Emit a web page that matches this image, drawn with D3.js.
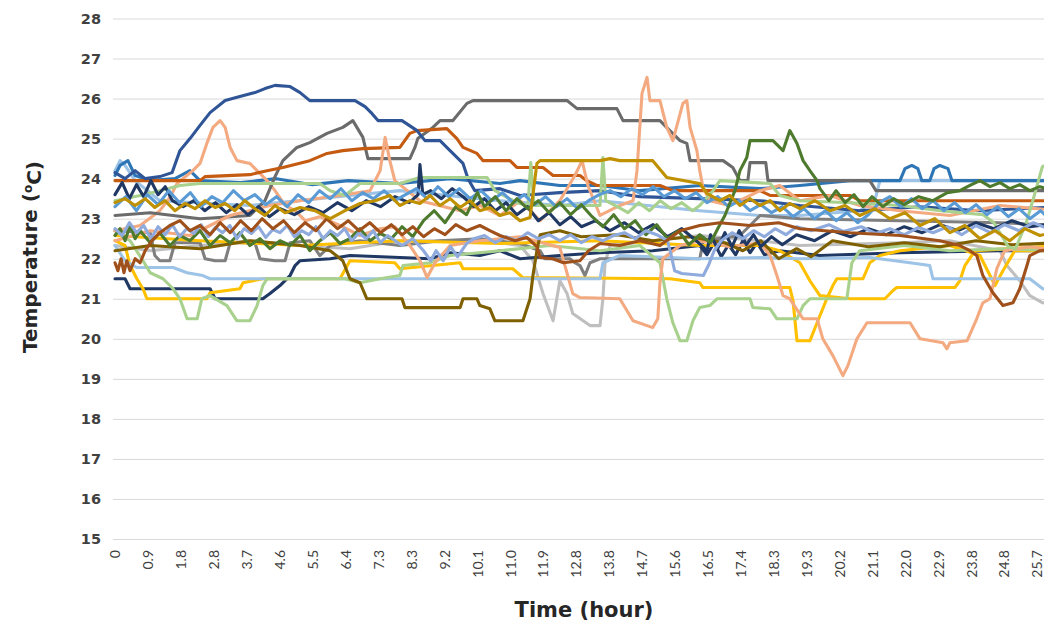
<!DOCTYPE html>
<html><head><meta charset="utf-8">
<script src="https://cdn.jsdelivr.net/npm/d3@7"></script>
<style>body{margin:0;background:#fff;overflow:hidden}svg{display:block}</style>
</head><body>
<svg id="chart" width="1044" height="623"></svg>
<script>
// ---------- data ----------
const tickLabels = ["0","0.9","1.8","2.8","3.7","4.6","5.5","6.4","7.3","8.3","9.2","10.1","11.0","11.9","12.8","13.8","14.7","15.6","16.5","17.4","18.3","19.3","20.2","21.1","22.0","22.9","23.8","24.8","25.7"];
const yTicks = [15,16,17,18,19,20,21,22,23,24,25,26,27,28];
const lastTickHour = 25.7;

const navyHump = [[0,24.15],[0.28,24.0],[0.56,24.2],[0.84,24.0],[1.25,24.05],[1.59,24.15],[1.81,24.7],[2.09,25.0],[2.37,25.33],[2.65,25.65],[3.07,25.95],[3.48,26.05],[3.9,26.15],[4.18,26.25],[4.46,26.33],[4.88,26.3],[5.16,26.15],[5.43,25.95],[6.69,25.95],[6.97,25.8],[7.16,25.63],[7.33,25.45],[8.0,25.45],[8.42,25.2],[8.64,24.95],[9.06,24.95],[9.34,24.7],[9.7,24.38],[9.84,24.0],[10.03,23.7],[10.73,23.75],[11.29,23.58],[12.4,23.65],[13.52,23.7],[14.63,23.55],[16.3,23.5],[17.98,23.45],[19.09,23.33],[20.76,23.2],[22.44,23.3],[24.1,23.2],[26.34,23.3]];
const grayHump = [[0,23.08],[0.98,23.15],[2.37,23.0],[3.76,23.08],[4.18,23.45],[4.46,24.05],[4.68,24.45],[5.07,24.78],[5.43,24.9],[5.91,25.13],[6.35,25.28],[6.63,25.45],[6.91,25.03],[7.05,24.5],[8.22,24.5],[8.36,24.78],[8.44,25.0],[8.86,25.28],[9.06,25.45],[9.42,25.45],[9.81,25.88],[9.98,25.95],[12.6,25.95],[12.88,25.75],[13.99,25.75],[14.16,25.45],[15.19,25.45],[15.41,25.25],[15.75,24.95],[15.94,24.88],[16.03,24.45],[16.95,24.45],[17.22,24.28],[17.42,23.95],[17.64,23.95],[17.7,24.4],[18.14,24.4],[18.2,23.95],[21.04,23.95],[21.21,23.7],[22.99,23.7],[26.34,23.7]];
const rustStep = [[0,23.95],[2.37,23.95],[2.51,24.05],[3.76,24.1],[4.24,24.2],[4.68,24.28],[5.43,24.45],[5.91,24.63],[6.35,24.7],[6.91,24.75],[7.94,24.78],[8.22,25.13],[8.42,25.2],[9.25,25.25],[9.53,25.0],[9.7,24.78],[10.09,24.63],[10.26,24.45],[11.01,24.45],[11.2,24.28],[11.93,24.28],[12.21,24.08],[12.96,24.08],[13.15,23.95],[13.43,23.83],[15.19,23.83],[15.55,23.7],[17.98,23.7],[18.26,23.58],[20.49,23.58],[20.76,23.45],[26.34,23.45]];
const salmonPeak = [[0,22.7],[0.7,22.83],[1.25,23.2],[1.53,23.53],[1.73,23.88],[2.17,24.2],[2.37,24.38],[2.56,24.88],[2.73,25.28],[2.93,25.45],[3.07,25.28],[3.21,24.78],[3.4,24.45],[3.76,24.38],[3.96,24.2],[4.24,23.95],[4.46,23.7],[4.74,23.33],[5.02,23.2],[5.3,22.95],[5.71,23.05],[6.27,22.83],[6.83,22.58],[7.39,22.75],[7.8,22.8],[8.22,22.33],[8.5,21.95],[8.7,21.53],[8.92,21.9],[9.34,22.33],[10.17,22.45],[11.29,22.55],[12.4,22.28],[12.76,21.13],[12.96,21.03],[14.07,21.0],[14.44,20.45],[14.99,20.28],[15.13,20.5],[15.19,21.4],[15.27,22.0],[15.75,22.33],[16.3,22.45],[17.14,22.3],[17.98,22.4],[18.26,22.08],[18.45,21.58],[18.62,21.08],[18.81,21.0],[19.18,20.5],[19.57,20.5],[19.73,20.0],[20.01,19.58],[20.29,19.08],[20.43,19.33],[20.68,20.0],[20.96,20.4],[22.16,20.4],[22.44,20.0],[23.08,19.9],[23.19,19.75],[23.27,19.9],[23.75,19.95],[24.02,20.5],[24.19,20.9],[24.39,21.0],[24.58,21.75],[24.8,22.2],[25.5,22.3],[26.34,22.2]];
const salmonSpike = [[0,22.45],[0.98,22.7],[2.09,22.58],[3.21,23.08],[4.32,23.33],[5.16,23.45],[6.27,23.58],[7.11,23.7],[7.39,24.2],[7.53,25.03],[7.66,24.45],[7.8,23.95],[8.5,23.45],[9.62,23.2],[10.17,23.33],[10.73,23.08],[11.29,23.45],[11.85,22.95],[12.4,23.45],[12.82,24.08],[13.02,24.45],[13.18,23.83],[13.52,23.08],[14.07,23.33],[14.44,23.45],[14.55,24.2],[14.69,26.13],[14.83,26.53],[14.91,25.95],[15.19,25.95],[15.38,25.28],[15.55,24.95],[15.83,25.88],[15.94,25.95],[16.03,25.28],[16.22,24.7],[16.3,24.2],[16.39,23.78],[16.58,23.45],[17.14,23.33],[17.98,23.7],[18.53,23.83],[19.09,23.45],[19.93,23.58],[20.76,23.33],[21.88,23.2],[23.27,23.08],[24.67,23.33],[26.34,23.2]];
const oliveLow = [[0,22.2],[0.98,22.33],[2.37,22.25],[3.76,22.45],[5.16,22.33],[6.0,22.2],[6.35,21.95],[6.55,21.5],[6.83,21.4],[7.02,21.0],[8.0,21.0],[8.08,20.78],[9.62,20.78],[9.7,21.0],[10.09,21.0],[10.17,20.83],[10.45,20.75],[10.59,20.45],[11.37,20.45],[11.57,21.0],[11.65,21.58],[11.76,22.2],[11.85,22.6],[12.4,22.7],[13.0,22.55],[14.0,22.6],[15.0,22.45],[16.0,22.55],[17.0,22.4],[17.5,22.2],[18.0,22.45],[18.5,22.0],[19.0,22.25],[19.4,22.05],[20.0,22.45],[21.0,22.3],[22.0,22.4],[23.0,22.3],[24.0,22.45],[25.0,22.35],[26.34,22.4]];
const goldMain = [[0,23.4],[0.28,23.5],[0.56,23.33],[0.84,23.5],[1.11,23.28],[1.39,23.45],[1.67,23.2],[1.95,23.38],[2.23,23.25],[2.51,23.45],[2.79,23.28],[3.07,23.38],[3.34,23.2],[3.62,23.45],[3.9,23.25],[4.18,23.08],[4.46,23.33],[4.74,23.15],[5.16,23.28],[5.57,23.2],[6.0,23.0],[6.41,23.2],[6.83,23.38],[7.25,23.45],[7.66,23.58],[7.94,23.33],[8.22,23.45],[8.5,23.38],[8.78,23.58],[9.06,23.33],[9.34,23.5],[9.62,23.28],[9.89,23.45],[10.17,23.2],[10.45,23.28],[10.73,23.08],[11.01,23.15],[11.29,22.95],[11.57,23.03],[11.76,24.38],[11.85,24.45],[13.52,24.45],[13.8,24.5],[14.07,24.45],[14.99,24.45],[15.38,24.03],[16.3,23.88],[16.5,23.63],[16.86,23.45],[17.14,23.58],[17.42,23.33],[17.7,23.5],[17.98,23.33],[18.26,23.45],[18.53,23.2],[18.81,23.38],[19.09,23.25],[19.51,23.45],[19.93,23.2],[20.35,23.33],[20.76,23.08],[21.18,23.25],[21.6,23.0],[22.02,23.15],[22.44,22.83],[22.85,23.0],[23.27,22.65],[23.69,22.83],[24.11,22.5],[24.53,22.7],[24.94,22.45],[25.36,22.75],[25.78,22.58],[26.34,22.7]];
const cornflower = [[0,22.75],[0.2,22.58],[0.4,22.9],[0.6,22.65],[0.8,22.83],[1.0,22.5],[1.2,22.8],[1.4,22.6],[1.6,22.85],[1.8,22.55],[2.0,22.75],[2.2,22.63],[2.4,22.85],[2.6,22.55],[2.8,22.78],[3.0,22.65],[3.2,22.83],[3.4,22.5],[3.6,22.75],[3.8,22.63],[4.0,22.8],[4.2,22.53],[4.4,22.73],[4.6,22.65],[4.8,22.83],[5.0,22.55],[5.2,22.7],[5.4,22.6],[5.6,22.8],[5.8,22.5],[6.0,22.7],[6.2,22.58],[6.4,22.75],[6.6,22.45],[6.8,22.65],[7.0,22.5],[7.2,22.7],[7.4,22.4],[7.6,22.58],[8.0,22.33],[8.3,22.5],[8.6,22.2],[8.8,21.95],[8.95,22.2],[9.15,21.95],[9.35,22.3],[9.55,22.05],[9.8,22.38],[10.0,22.5],[10.3,22.58],[10.6,22.4],[10.9,22.55],[11.2,22.45],[11.5,22.65],[11.8,22.5],[12.1,22.6],[12.4,22.45],[12.7,22.6],[13.0,22.4],[13.3,22.55],[13.6,22.45],[13.9,22.58],[14.2,22.65],[14.5,22.5],[14.8,22.7],[15.1,22.6],[15.4,22.45],[15.5,22.1],[15.6,21.7],[15.8,21.63],[16.4,21.58],[16.55,21.85],[16.7,22.2],[16.9,22.45],[17.2,22.65],[17.5,22.5],[17.8,22.7],[18.1,22.55],[18.4,22.75],[18.7,22.6],[19.0,22.8],[19.4,22.7],[19.9,22.85],[20.3,22.68],[20.8,22.8],[21.2,22.63],[21.6,22.75],[22.0,22.6],[22.4,22.78],[22.8,22.65],[23.2,22.8],[23.6,22.6],[24.0,22.83],[24.4,22.65],[24.8,22.85],[25.2,22.7],[25.6,22.9],[26.0,22.75],[26.34,22.8]];
const greenTop = [[0,23.45],[0.7,23.58],[1.25,23.7],[1.81,23.83],[2.37,23.88],[5.71,23.88],[6.0,23.7],[6.41,23.58],[6.83,23.88],[7.94,23.88],[8.5,24.03],[10.37,24.03],[10.59,23.7],[11.2,23.4],[11.51,23.33],[11.59,24.4],[11.68,23.33],[12.4,23.33],[13.52,23.33],[13.6,24.53],[13.68,23.45],[14.0,23.3],[14.3,23.15],[14.6,23.4],[14.9,23.2],[15.2,23.45],[15.5,23.25],[15.8,23.4],[16.1,23.2],[16.3,23.33],[16.67,23.7],[16.86,23.95],[18.26,23.88],[18.53,23.58],[19.09,23.45],[20.49,23.4],[21.88,23.33],[23.0,23.2],[24.2,23.1],[24.5,22.9],[24.9,22.3],[25.1,22.25],[25.4,22.9],[25.6,23.5],[25.85,24.3],[26.34,24.5]];
const greenLow = [[0,22.7],[0.42,22.45],[0.78,21.95],[0.98,21.65],[1.34,21.5],[1.62,21.25],[1.81,21.0],[2.01,20.5],[2.29,20.5],[2.42,21.0],[2.65,21.08],[3.12,20.83],[3.4,20.45],[3.76,20.45],[3.96,20.83],[4.12,21.33],[4.24,21.5],[6.41,21.5],[6.83,21.4],[7.39,21.5],[7.94,21.58],[8.03,21.83],[8.78,21.9],[9.34,22.08],[10.73,22.2],[12.12,22.33],[13.52,22.2],[14.63,22.33],[15.19,21.9],[15.38,21.0],[15.55,20.4],[15.75,19.95],[15.94,19.95],[16.11,20.45],[16.3,20.78],[16.58,20.83],[16.78,21.0],[17.7,21.0],[17.78,20.78],[18.26,20.75],[18.45,20.5],[19.01,20.5],[19.18,20.83],[19.37,21.0],[20.4,21.0],[20.54,21.9],[20.76,22.2],[22.0,22.33],[23.27,22.2],[24.67,22.25],[26.34,22.2]];
const yellow1 = [[0,22.45],[0.28,22.33],[0.42,21.83],[0.61,21.5],[0.78,21.25],[0.89,21.0],[2.56,21.0],[2.65,21.15],[3.48,21.25],[3.57,21.4],[4.12,21.5],[6.27,21.5],[6.55,21.95],[7.8,21.9],[7.94,21.75],[9.62,21.9],[9.7,21.75],[11.09,21.75],[11.37,21.53],[15.47,21.5],[16.3,21.4],[16.39,21.28],[18.81,21.28],[18.9,20.95],[19.01,19.95],[19.37,19.95],[19.57,20.4],[19.84,21.0],[20.01,21.33],[20.12,21.5],[20.85,21.5],[21.04,21.9],[21.32,22.08],[21.88,22.2],[23.27,22.33],[24.11,22.08],[24.25,21.83],[24.53,21.33],[24.75,21.7],[25.08,22.2],[26.34,22.2]];
const yellow2 = [[0,22.58],[2.37,22.45],[5.16,22.33],[7.94,22.45],[10.73,22.38],[13.52,22.45],[16.3,22.33],[17.98,22.33],[18.53,22.2],[19.09,21.9],[19.37,21.45],[19.65,21.08],[20.49,21.0],[21.46,21.0],[21.68,21.2],[21.79,21.28],[23.41,21.28],[23.55,21.45],[23.69,21.83],[23.97,22.2],[26.34,22.33]];
const lightBlue1 = [[0,22.33],[0.28,21.95],[0.61,21.78],[1.62,21.78],[2.01,21.65],[2.45,21.58],[2.65,21.5],[13.52,21.5],[13.6,21.9],[14.07,22.08],[16.3,22.0],[17.98,22.03],[19.09,22.0],[21.04,22.03],[22.16,21.9],[22.71,21.83],[22.8,21.5],[24.58,21.5],[25.5,21.5],[25.86,21.25],[26.34,21.2]];
const lightBlue2 = [[0,24.2],[0.14,24.45],[0.28,24.33],[0.56,23.95],[1.25,23.45],[3.76,23.33],[6.55,23.58],[7.94,23.7],[10.73,23.45],[12.4,23.33],[13.52,23.45],[16.3,23.2],[17.98,23.08],[19.09,23.08],[20.76,23.2],[21.18,23.45],[21.32,23.95],[26.34,23.95]];
const medBlue1 = [[0,24.08],[0.14,24.33],[0.36,24.45],[0.56,24.08],[0.98,23.95],[1.67,24.0],[2.09,24.2],[2.37,23.95],[3.5,23.9],[4.5,24.0],[5.5,23.85],[6.5,23.95],[7.94,23.88],[9.34,24.0],[10.73,23.88],[11.29,23.95],[12.4,23.83],[13.52,23.83],[14.63,23.7],[16.3,23.83],[17.98,23.75],[19.09,23.83],[20.49,23.95],[21.88,23.95],[22.02,24.25],[22.21,24.33],[22.38,24.25],[22.49,23.95],[22.71,23.95],[22.83,24.25],[22.99,24.33],[23.22,24.25],[23.33,23.95],[26.34,23.95]];
const medBlue2 = [[0,23.3],[0.3,23.55],[0.6,23.2],[0.9,23.6],[1.2,23.35],[1.5,23.7],[1.8,23.4],[2.1,23.65],[2.4,23.3],[2.7,23.55],[3.0,23.4],[3.3,23.7],[3.6,23.45],[3.9,23.6],[4.2,23.35],[4.5,23.55],[4.8,23.3],[5.1,23.6],[5.4,23.4],[5.7,23.7],[6.0,23.5],[6.3,23.75],[6.6,23.45],[6.9,23.65],[7.2,23.5],[7.5,23.7],[7.8,23.45],[8.1,23.6],[8.4,23.75],[8.7,23.5],[9.0,23.8],[9.3,23.55],[9.6,23.75],[9.9,23.5],[10.2,23.7],[10.5,23.45],[10.8,23.65],[11.1,23.4],[11.4,23.6],[11.7,23.35],[12.0,23.55],[12.3,23.3],[12.6,23.5],[12.9,23.25],[13.2,23.45],[13.5,23.6],[13.8,23.7],[14.1,23.55],[14.4,23.75],[14.7,23.6],[15.0,23.8],[15.3,23.55],[15.6,23.7],[15.9,23.5],[16.2,23.65],[16.5,23.4],[16.8,23.55],[17.1,23.3],[17.4,23.45],[17.7,23.2],[18.0,23.35],[18.3,23.15],[18.6,23.3],[18.9,23.05],[19.2,23.25],[19.5,23.0],[19.8,23.2],[20.1,22.95],[20.4,23.15],[20.7,22.9],[21.0,23.1],[21.3,23.4],[21.6,23.55],[21.9,23.3],[22.2,23.5],[22.5,23.25],[22.8,23.45],[23.1,23.2],[23.4,23.4],[23.7,23.15],[24.0,23.35],[24.3,23.1],[24.6,23.3],[24.9,23.05],[25.2,23.25],[25.5,23.0],[25.8,23.2],[26.1,22.95],[26.34,23.1]];
const navyNoise = [[0,23.6],[0.2,23.9],[0.4,23.5],[0.6,23.85],[0.8,23.55],[1.0,23.95],[1.2,23.6],[1.4,23.8],[1.6,23.45],[1.9,23.3],[2.2,23.45],[2.5,23.2],[2.8,23.4],[3.1,23.15],[3.4,23.35],[3.7,23.1],[4.0,23.3],[4.3,23.05],[4.6,23.25],[5.0,23.1],[5.4,23.3],[5.8,23.15],[6.2,23.4],[6.6,23.2],[7.0,23.45],[7.4,23.3],[7.8,23.55],[8.2,23.4],[8.45,23.6],[8.5,24.35],[8.58,23.6],[8.8,23.7],[9.1,23.5],[9.4,23.75],[9.7,23.55],[10.0,23.3],[10.3,23.5],[10.6,23.2],[10.9,23.4],[11.2,23.1],[11.5,23.3],[11.8,22.95],[12.1,23.15],[12.4,22.85],[12.7,23.05],[13.0,22.8],[13.4,22.95],[13.8,22.7],[14.2,22.9],[14.6,22.65],[15.0,22.85],[15.4,22.55],[15.8,22.75],[16.2,22.45],[16.5,22.2],[16.6,22.6],[16.8,22.25],[17.0,22.65],[17.2,22.3],[17.4,22.7],[17.6,22.35],[17.8,22.6],[18.0,22.3],[18.3,22.55],[18.6,22.35],[19.0,22.6],[19.5,22.45],[20.0,22.7],[20.5,22.55],[21.0,22.75],[21.5,22.6],[22.0,22.8],[22.5,22.65],[23.0,22.85],[23.5,22.7],[24.0,22.9],[24.5,22.75],[25.0,22.95],[25.5,22.8],[26.34,22.9]];
const navyLow = [[0,21.5],[0.28,21.5],[0.42,21.25],[2.65,21.25],[2.79,21.0],[4.12,21.0],[4.32,21.13],[4.6,21.33],[4.88,21.58],[5.02,21.83],[5.16,21.95],[6.0,22.0],[6.55,22.08],[7.94,22.03],[8.78,22.0],[9.34,22.15],[10.17,22.08],[10.73,22.2],[11.29,22.0],[12.4,22.08],[13.52,22.15],[14.99,22.2],[16.3,22.33],[16.5,22.1],[16.7,22.4],[16.9,22.05],[17.1,22.35],[17.3,22.1],[17.5,22.45],[17.7,22.15],[17.9,22.4],[18.1,22.1],[18.53,22.2],[19.65,22.08],[21.88,22.15],[24.67,22.2],[26.34,22.2]];
const grayMid = [[0,22.7],[0.98,22.65],[1.11,22.08],[1.25,21.95],[1.53,21.95],[1.67,22.4],[2.37,22.4],[2.51,22.0],[2.79,21.95],[3.07,21.95],[3.21,22.4],[3.9,22.4],[4.04,22.0],[4.46,21.95],[4.74,21.95],[4.88,22.4],[5.43,22.45],[5.71,22.08],[6.0,22.33],[6.83,22.45],[7.94,22.33],[9.06,22.45],[10.17,22.5],[11.29,22.38],[11.85,22.2],[11.98,22.0],[12.68,22.0],[12.82,21.9],[12.96,21.83],[13.1,21.58],[13.24,21.9],[13.52,22.0],[14.99,22.0],[16.3,22.0],[16.4,22.45],[17.42,22.58],[17.98,23.08],[19.09,23.0],[21.88,22.95],[24.67,22.9],[26.34,22.83]];
const lightGray = [[0,22.33],[0.98,22.2],[2.37,22.33],[3.76,22.45],[5.16,22.33],[6.55,22.25],[7.94,22.45],[9.34,22.45],[10.73,22.4],[11.29,22.33],[11.65,21.95],[11.93,21.13],[12.21,20.45],[12.4,21.45],[12.6,21.13],[12.76,20.63],[13.24,20.33],[13.52,20.33],[13.6,21.0],[13.66,21.9],[13.8,22.33],[14.99,22.45],[16.3,22.58],[17.98,22.45],[19.09,22.33],[21.88,22.4],[23.27,22.45],[24.67,22.2],[24.86,21.83],[25.22,21.45],[25.5,21.08],[25.86,20.9],[26.34,20.85]];
const rustDark = [[0,21.9],[0.08,21.7],[0.17,22.0],[0.25,21.65],[0.33,21.95],[0.42,21.7],[0.56,22.0],[0.7,21.9],[0.84,22.2],[1.03,22.45],[1.25,22.65],[1.53,22.83],[1.81,22.95],[2.09,22.7],[2.37,22.83],[2.65,22.6],[2.93,22.9],[3.21,22.65],[3.5,22.95],[3.8,22.7],[4.1,23.0],[4.4,22.75],[4.7,22.95],[5.0,22.65],[5.3,22.9],[5.6,22.7],[5.9,23.0],[6.2,22.75],[6.5,22.95],[6.8,22.7],[7.1,22.9],[7.4,22.65],[7.7,22.85],[8.0,22.6],[8.3,22.8],[8.6,22.55],[8.9,22.75],[9.2,22.6],[9.5,22.85],[9.8,22.7],[10.17,22.83],[10.45,22.7],[10.73,22.58],[11.15,22.45],[11.48,22.53],[11.76,22.3],[11.85,22.03],[12.2,22.0],[12.5,21.9],[12.96,21.95],[13.2,22.2],[13.52,22.38],[14.07,22.33],[14.63,22.45],[15.19,22.33],[15.75,22.7],[16.3,22.83],[16.86,22.9],[17.7,22.83],[18.5,22.9],[19.09,22.75],[20.49,22.65],[21.88,22.58],[22.99,22.45],[23.55,22.33],[23.83,22.2],[24.02,22.08],[24.19,21.58],[24.47,21.15],[24.75,20.83],[25.03,20.9],[25.22,21.25],[25.42,21.83],[25.5,22.08],[25.78,22.2],[26.34,22.25]];
const darkGreen = [[0,22.58],[0.14,22.75],[0.28,22.45],[0.42,22.83],[0.56,22.5],[0.7,22.7],[0.98,22.4],[1.25,22.65],[1.53,22.33],[1.81,22.58],[2.09,22.45],[2.37,22.7],[2.65,22.33],[2.93,22.58],[3.21,22.4],[3.48,22.65],[3.76,22.33],[4.04,22.5],[4.32,22.25],[4.6,22.45],[4.88,22.33],[5.16,22.58],[5.43,22.2],[5.71,22.45],[6.0,22.65],[6.27,22.38],[6.55,22.5],[6.83,22.75],[7.11,22.45],[7.39,22.63],[7.7,22.5],[8.0,22.8],[8.3,22.55],[8.6,22.95],[8.9,23.2],[9.2,22.9],[9.5,23.3],[9.8,23.1],[10.1,23.65],[10.3,23.3],[10.6,23.55],[10.9,23.2],[11.2,23.5],[11.5,23.25],[11.8,23.45],[12.1,23.15],[12.4,23.4],[12.7,23.1],[13.0,23.35],[13.3,23.05],[13.6,22.8],[13.9,23.1],[14.2,22.75],[14.5,22.95],[14.8,22.6],[15.1,22.85],[15.4,22.5],[15.7,22.7],[16.0,22.35],[16.3,22.6],[16.6,22.4],[16.8,22.75],[17.0,23.08],[17.28,23.7],[17.42,24.2],[17.61,24.53],[17.7,24.95],[18.34,24.95],[18.62,24.7],[18.81,25.2],[19.01,24.88],[19.18,24.45],[19.37,24.2],[19.57,23.95],[19.65,23.75],[19.9,23.45],[20.1,23.7],[20.35,23.4],[20.6,23.6],[20.85,23.3],[21.1,23.55],[21.4,23.3],[21.7,23.5],[22.0,23.35],[22.4,23.55],[22.8,23.45],[23.2,23.65],[23.55,23.7],[23.83,23.83],[24.11,23.95],[24.39,23.8],[24.67,23.9],[24.94,23.75],[25.22,23.85],[25.5,23.7],[25.78,23.8],[26.34,23.65]];

const seriesNames  = ["lightBlue2","medBlue1","lightGray","grayMid","navyLow","yellow2","yellow1","lightBlue1","greenLow","salmonPeak","oliveLow","grayHump","rustStep","navyHump","salmonSpike","greenTop","navyNoise","medBlue2","darkGreen","cornflower","rustDark","goldMain"];
const seriesData   = [lightBlue2,medBlue1,lightGray,grayMid,navyLow,yellow2,yellow1,lightBlue1,greenLow,salmonPeak,oliveLow,grayHump,rustStep,navyHump,salmonSpike,greenTop,navyNoise,medBlue2,darkGreen,cornflower,rustDark,goldMain];
const seriesColors = ["#9DC3E6","#2E75B6","#BFBFBF","#7F7F7F","#203864","#FFC000","#FFC000","#9DC3E6","#A9D18E","#F4AA80","#7F6000","#6B6B6B","#C55A11","#2F5597","#F4AA80","#A9D18E","#203864","#5B9BD5","#4E7A2E","#8FAADC","#A0501A","#BF9000"];

// ---------- drawing ----------
const W = 1044, H = 623;
const svg = d3.select("#chart");
const x = d3.scaleLinear().domain([0, lastTickHour]).range([115, 1037]);
const y = d3.scaleLinear().domain([15, 28]).range([539, 18.5]);
const gridLeft = 113;

// y axis with gridlines
const yAxis = d3.axisLeft(y).tickValues(yTicks).tickSize(-(W - gridLeft)).tickPadding(12).tickFormat(d3.format("d"));
const gy = svg.append("g").attr("transform", `translate(${gridLeft},0)`).call(yAxis);
gy.select(".domain").remove();
gy.selectAll(".tick line").attr("stroke", "#d9d9d9").attr("stroke-width", 1);
gy.selectAll(".tick text").attr("fill", "#404040").style("font-family", "'DejaVu Sans', sans-serif").style("font-weight", "bold").style("font-size", "14.5px");

// x axis (category-like labels, rotated)
const tickHours = tickLabels.map((_, i) => i * lastTickHour / (tickLabels.length - 1));
const xAxis = d3.axisBottom(x).tickValues(tickHours).tickSize(0).tickFormat((d, i) => tickLabels[i]);
const gx = svg.append("g").attr("transform", `translate(0,${y(15)})`).call(xAxis);
gx.select(".domain").remove();
gx.selectAll(".tick text")
  .attr("transform", "rotate(-90)")
  .attr("x", -11).attr("y", 0).attr("dy", "0.35em")
  .style("text-anchor", "end")
  .attr("fill", "#404040")
  .style("font-family", "Lato, 'Open Sans', sans-serif")
  .style("font-size", "14px");

// lines
const line = d3.line().x(d => x(d[0])).y(d => y(d[1]));
const gl = svg.append("g");
seriesData.forEach((data, i) => {
  gl.append("path")
    .attr("d", line(data))
    .attr("fill", "none")
    .attr("stroke", seriesColors[i])
    .attr("stroke-width", 3.1)
    .attr("stroke-linejoin", "round")
    .attr("stroke-linecap", "round")
    .attr("class", seriesNames[i]);
});

// axis titles
const yTitle = svg.append("text")
  .attr("transform", `translate(37,257) rotate(-90)`)
  .attr("text-anchor", "middle")
  .attr("fill", "#262626")
  .style("font-family", "'DejaVu Sans', sans-serif")
  .style("font-weight", "bold")
  .style("font-size", "20px");
yTitle.append("tspan").text("Temperature (");
yTitle.append("tspan").attr("dy", "-0.45em").style("font-size", "12px").text("o");
yTitle.append("tspan").attr("dy", "0.45em").text("C)");

svg.append("text")
  .attr("x", 584).attr("y", 617)
  .attr("text-anchor", "middle")
  .attr("fill", "#262626")
  .style("font-family", "'DejaVu Sans', sans-serif")
  .style("font-weight", "bold")
  .style("font-size", "21px")
  .text("Time (hour)");
</script>
</body></html>
